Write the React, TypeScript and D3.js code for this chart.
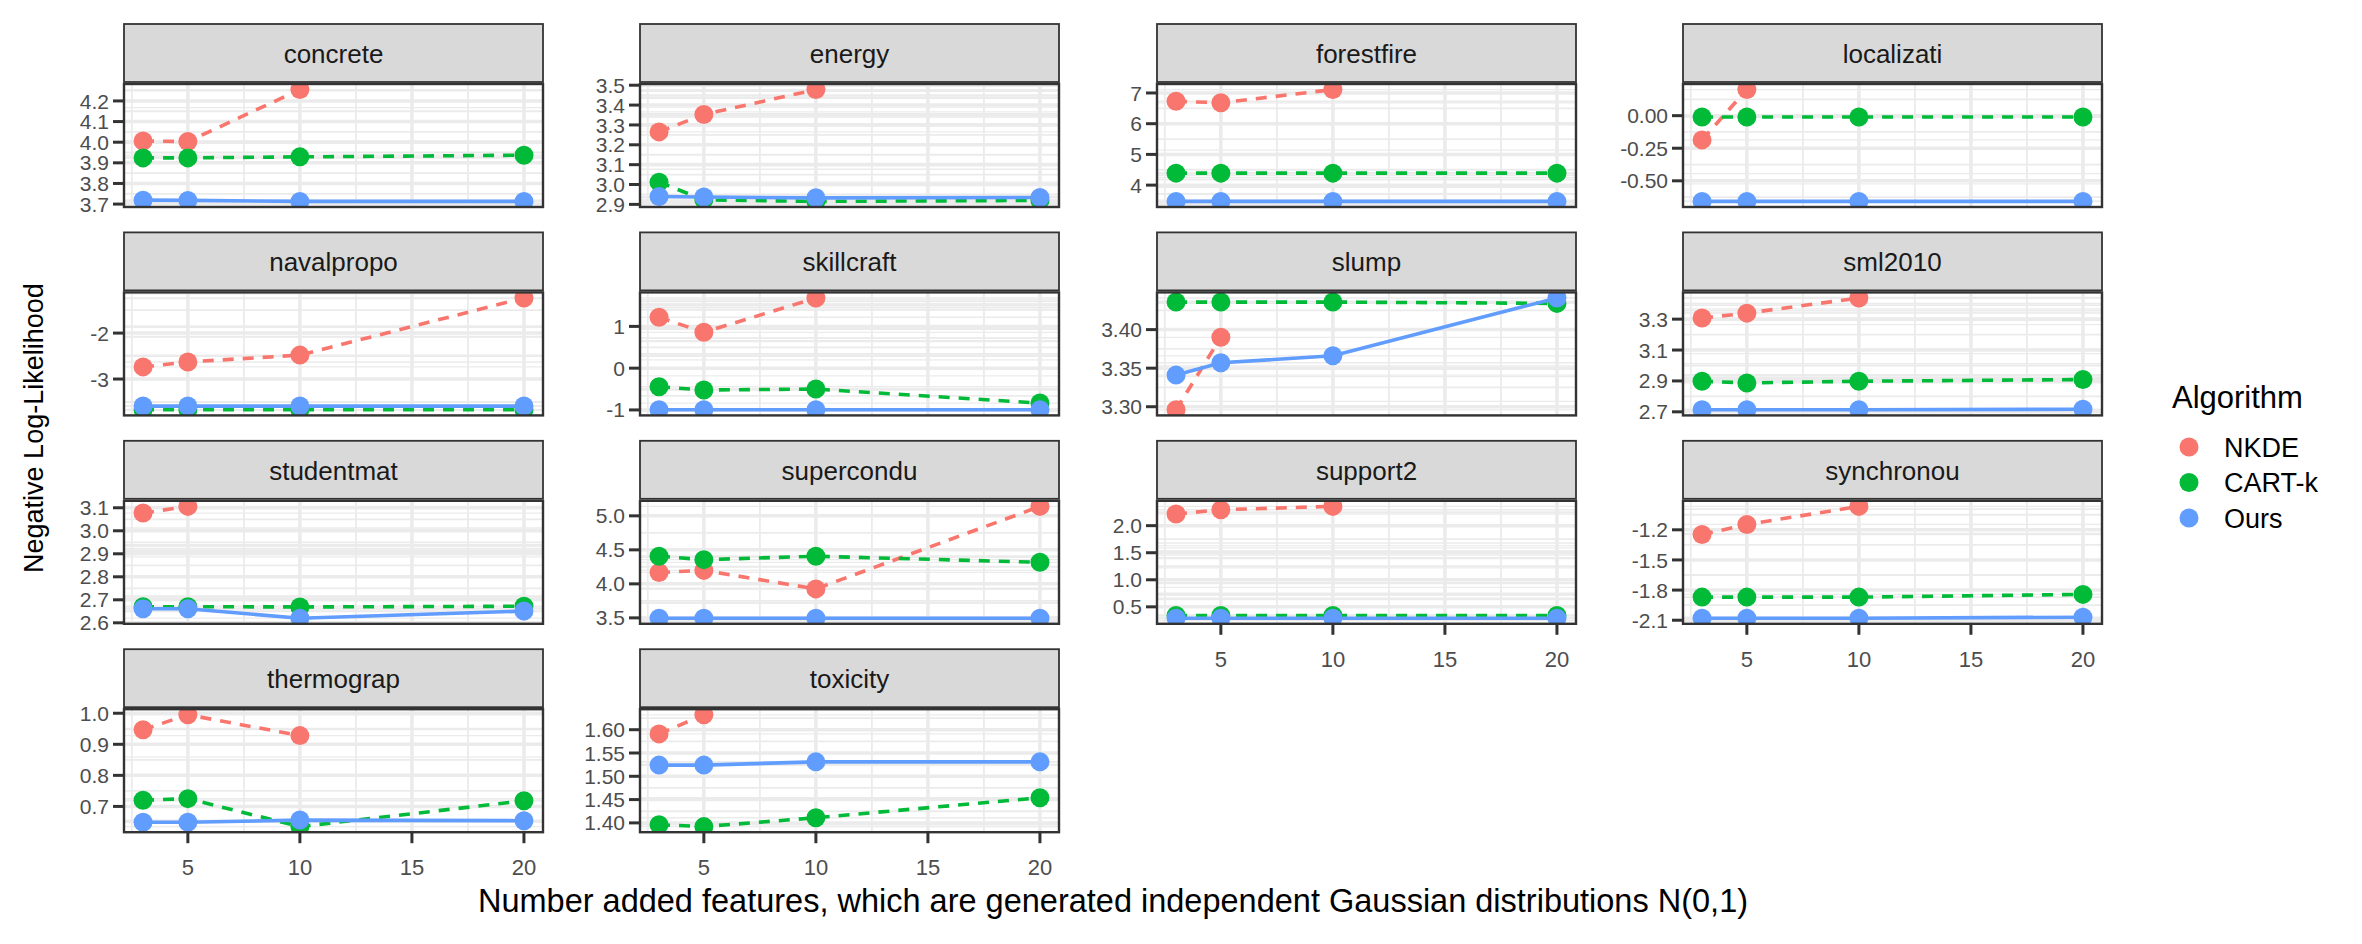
import React from 'react';
import * as d3 from 'd3';

// facet names, in facet_wrap order (4 columns)
const DATASETS = [
  'concrete', 'energy', 'forestfire', 'localizati',
  'navalpropo', 'skillcraft', 'slump', 'sml2010',
  'studentmat', 'supercondu', 'support2', 'synchronou',
  'thermograp', 'toxicity',
];

const X_VALUES = [3, 5, 10, 20];
const X_TICKS = [5, 10, 15, 20];

const ALGORITHMS = ['NKDE', 'CART-k', 'Ours'];
const ALGO_COLORS = ['#F8766D', '#00BA38', '#619CFF'];
const ALGO_DASH = ['11 9', '11 9', null];

// negative log-likelihood per dataset, at X_VALUES (null = not run)
const NKDE_VALUES: (number | null)[][] = [
  [4.006, 4.003, 4.255, null],
  [3.265, 3.353, 3.478, null],
  [6.73, 6.68, 7.11, null],
  [-0.186, 0.2, null, null],
  [-2.736, -2.629, -2.479, -1.236],
  [1.219, 0.859, 1.68, null],
  [3.296, 3.39, null, null],
  [3.307, 3.339, 3.437, null],
  [3.077, 3.106, null, null],
  [4.168, 4.198, 3.926, 5.139],
  [2.215, 2.294, 2.356, null],
  [-1.247, -1.147, -0.967, null],
  [0.947, 0.995, 0.928, null],
  [1.591, 1.632, null, null],
];

const CARTK_VALUES: (number | null)[][] = [
  [3.924, 3.924, 3.929, 3.937],
  [3.012, 2.923, 2.915, 2.92],
  [4.39, 4.39, 4.39, 4.39],
  [-0.01, -0.01, -0.01, -0.01],
  [-3.67, -3.67, -3.67, -3.67],
  [-0.445, -0.523, -0.5, -0.836],
  [3.4357, 3.4357, 3.4357, 3.434],
  [2.898, 2.887, 2.898, 2.909],
  [2.67, 2.67, 2.669, 2.672],
  [4.406, 4.356, 4.406, 4.317],
  [0.34, 0.34, 0.34, 0.34],
  [-1.87, -1.87, -1.87, -1.843],
  [0.72, 0.725, 0.635, 0.718],
  [1.396, 1.392, 1.411, 1.454],
];

const OURS_VALUES: (number | null)[][] = [
  [3.719, 3.718, 3.713, 3.713],
  [2.94, 2.937, 2.933, 2.935],
  [3.47, 3.47, 3.47, 3.47],
  [-0.658, -0.658, -0.658, -0.658],
  [-3.589, -3.589, -3.589, -3.589],
  [-0.997, -0.997, -0.997, -0.997],
  [3.341, 3.357, 3.366, 3.441],
  [2.713, 2.713, 2.713, 2.717],
  [2.661, 2.661, 2.62, 2.651],
  [3.495, 3.495, 3.495, 3.495],
  [0.29, 0.29, 0.29, 0.29],
  [-2.08, -2.08, -2.08, -2.07],
  [0.649, 0.649, 0.656, 0.654],
  [1.524, 1.524, 1.531, 1.531],
];

// y tick labels per facet (free scales)
const Y_TICK_LABELS: string[][] = [
  ['3.7', '3.8', '3.9', '4.0', '4.1', '4.2'],
  ['2.9', '3.0', '3.1', '3.2', '3.3', '3.4', '3.5'],
  ['4', '5', '6', '7'],
  ['-0.50', '-0.25', '0.00'],
  ['-3', '-2'],
  ['-1', '0', '1'],
  ['3.30', '3.35', '3.40'],
  ['2.7', '2.9', '3.1', '3.3'],
  ['2.6', '2.7', '2.8', '2.9', '3.0', '3.1'],
  ['3.5', '4.0', '4.5', '5.0'],
  ['0.5', '1.0', '1.5', '2.0'],
  ['-2.1', '-1.8', '-1.5', '-1.2'],
  ['0.7', '0.8', '0.9', '1.0'],
  ['1.40', '1.45', '1.50', '1.55', '1.60'],
];

const X_TITLE = 'Number added features, which are generated independent Gaussian distributions N(0,1)';
const Y_TITLE = 'Negative Log-Likelihood';
const LEGEND_TITLE = 'Algorithm';

const WIDTH = 2362;
const HEIGHT = 944;
const FONT = '"Liberation Sans", Arial, Helvetica, sans-serif';
const COL_LEFT = [124, 640, 1157, 1683];
const ROW_TOP = [24, 232.4, 440.8, 649.2];
const PANEL_W = 419;
const STRIP_H = 58;
const PANEL_GAP = 2;
const PANEL_H = 123;
const GRID = '#EBEBEB';

// ggplot-style 5% expansion
function expand(lo: number, hi: number): [number, number] {
  const pad = (hi - lo) * 0.05;
  return [lo - pad, hi + pad];
}

function minorsFor(majors: number[], domain: [number, number]) {
  const step = majors.length > 1 ? majors[1] - majors[0] : 1;
  const out: number[] = [];
  for (let v = majors[0] - step / 2; v <= domain[1]; v += step) {
    if (v >= domain[0]) out.push(v);
  }
  return out;
}

export default function App() {
  const series = [NKDE_VALUES, CARTK_VALUES, OURS_VALUES];
  const allValues = series.flatMap((s) => s.flat()).filter((v) => v != null) as number[];

  const xDomain = expand(d3.min(X_VALUES)!, d3.max(X_VALUES)!);
  const x = d3.scaleLinear().domain(xDomain).range([0, PANEL_W]);
  const xMinors = minorsFor(X_TICKS, xDomain);

  const panelRight = COL_LEFT[3] + PANEL_W;

  return (
    <svg
      width={WIDTH}
      height={HEIGHT}
      style={{ position: 'absolute', left: 0, top: 0, background: '#fff' }}
      fontFamily={FONT}
    >
      <defs>
        {DATASETS.map((name, i) => (
          <clipPath id={`clip-${i}`} key={name}>
            <rect width={PANEL_W} height={PANEL_H} />
          </clipPath>
        ))}
      </defs>

      {DATASETS.map((name, i) => {
        const col = i % 4;
        const row = Math.floor(i / 4);
        const left = COL_LEFT[col];
        const top = ROW_TOP[row];
        const panelTop = top + STRIP_H + PANEL_GAP;

        const vals = series.flatMap((s) => s[i]).filter((v) => v != null) as number[];
        const yDomain = expand(d3.min(vals)!, d3.max(vals)!);
        const y = d3.scaleLinear().domain(yDomain).range([PANEL_H, 0]);
        const majors = Y_TICK_LABELS[i].map(Number);
        const minors = minorsFor(majors, yDomain);
        const extras = allValues.filter((v) => v > yDomain[0] && v < yDomain[1]);
        const hasXAxis = i + 4 >= DATASETS.length;

        const line = d3
          .line<[number, number | null]>()
          .defined((d) => d[1] != null)
          .x((d) => x(d[0]))
          .y((d) => y(d[1] as number));

        return (
          <g key={name}>
            {/* strip */}
            <rect x={left} y={top} width={PANEL_W} height={STRIP_H} fill="#D9D9D9" stroke="#333333" strokeWidth={1.8} />
            <text x={left + PANEL_W / 2} y={top + 39} textAnchor="middle" fontSize={26} fill="#1A1A1A">
              {name}
            </text>

            <g transform={`translate(${left},${panelTop})`}>
              <rect width={PANEL_W} height={PANEL_H} fill="#fff" />
              <g clipPath={`url(#clip-${i})`}>
                {extras.map((v, k) => (
                  <line key={`e${k}`} x1={0} x2={PANEL_W} y1={y(v)} y2={y(v)} stroke={GRID} strokeWidth={1.3} />
                ))}
                {minors.map((v) => (
                  <line key={`ym${v}`} x1={0} x2={PANEL_W} y1={y(v)} y2={y(v)} stroke={GRID} strokeWidth={1.8} />
                ))}
                {xMinors.map((v) => (
                  <line key={`xm${v}`} x1={x(v)} x2={x(v)} y1={0} y2={PANEL_H} stroke={GRID} strokeWidth={1.8} />
                ))}
                {majors.map((v) => (
                  <line key={`yM${v}`} x1={0} x2={PANEL_W} y1={y(v)} y2={y(v)} stroke={GRID} strokeWidth={3.5} />
                ))}
                {X_TICKS.map((v) => (
                  <line key={`xM${v}`} x1={x(v)} x2={x(v)} y1={0} y2={PANEL_H} stroke={GRID} strokeWidth={3.5} />
                ))}

                {series.map((s, a) => (
                  <path
                    key={`l${a}`}
                    d={line(X_VALUES.map((xv, k) => [xv, s[i][k]])) || ''}
                    fill="none"
                    stroke={ALGO_COLORS[a]}
                    strokeWidth={3.6}
                    strokeDasharray={ALGO_DASH[a] || undefined}
                  />
                ))}
                {series.map((s, a) =>
                  X_VALUES.map((xv, k) =>
                    s[i][k] == null ? null : (
                      <circle key={`p${a}-${k}`} cx={x(xv)} cy={y(s[i][k] as number)} r={9.5} fill={ALGO_COLORS[a]} />
                    )
                  )
                )}
              </g>
              <rect width={PANEL_W} height={PANEL_H} fill="none" stroke="#333333" strokeWidth={2.4} />

              {/* y axis */}
              {Y_TICK_LABELS[i].map((lab) => (
                <g key={`yt${lab}`} transform={`translate(0,${y(+lab)})`}>
                  <line x1={-11} x2={0} stroke="#333333" strokeWidth={3} />
                  <text x={-15} dy="0.36em" textAnchor="end" fontSize={21} fill="#4D4D4D">
                    {lab}
                  </text>
                </g>
              ))}

              {/* x axis on the last panel of each column */}
              {hasXAxis &&
                X_TICKS.map((v) => (
                  <g key={`xt${v}`} transform={`translate(${x(v)},${PANEL_H})`}>
                    <line y1={0} y2={11} stroke="#333333" strokeWidth={3} />
                    <text y={43} textAnchor="middle" fontSize={22} fill="#4D4D4D">
                      {v}
                    </text>
                  </g>
                ))}
            </g>
          </g>
        );
      })}

      {/* axis titles */}
      <text x={(COL_LEFT[0] + panelRight) / 2} y={912} textAnchor="middle" fontSize={32.5} fill="#000">
        {X_TITLE}
      </text>
      <text
        transform={`translate(43,${(ROW_TOP[0] + ROW_TOP[3] + STRIP_H + PANEL_GAP + PANEL_H) / 2}) rotate(-90)`}
        textAnchor="middle"
        fontSize={27}
        fill="#000"
      >
        {Y_TITLE}
      </text>

      {/* legend */}
      <g transform="translate(2172,0)">
        <text x={0} y={408} fontSize={31} fill="#000">
          {LEGEND_TITLE}
        </text>
        {ALGORITHMS.map((name, a) => (
          <g key={name} transform={`translate(0,${447 + a * 35.5})`}>
            <circle cx={17} cy={0} r={9.5} fill={ALGO_COLORS[a]} />
            <text x={52} dy="0.36em" fontSize={27} fill="#000">
              {name}
            </text>
          </g>
        ))}
      </g>
    </svg>
  );
}
